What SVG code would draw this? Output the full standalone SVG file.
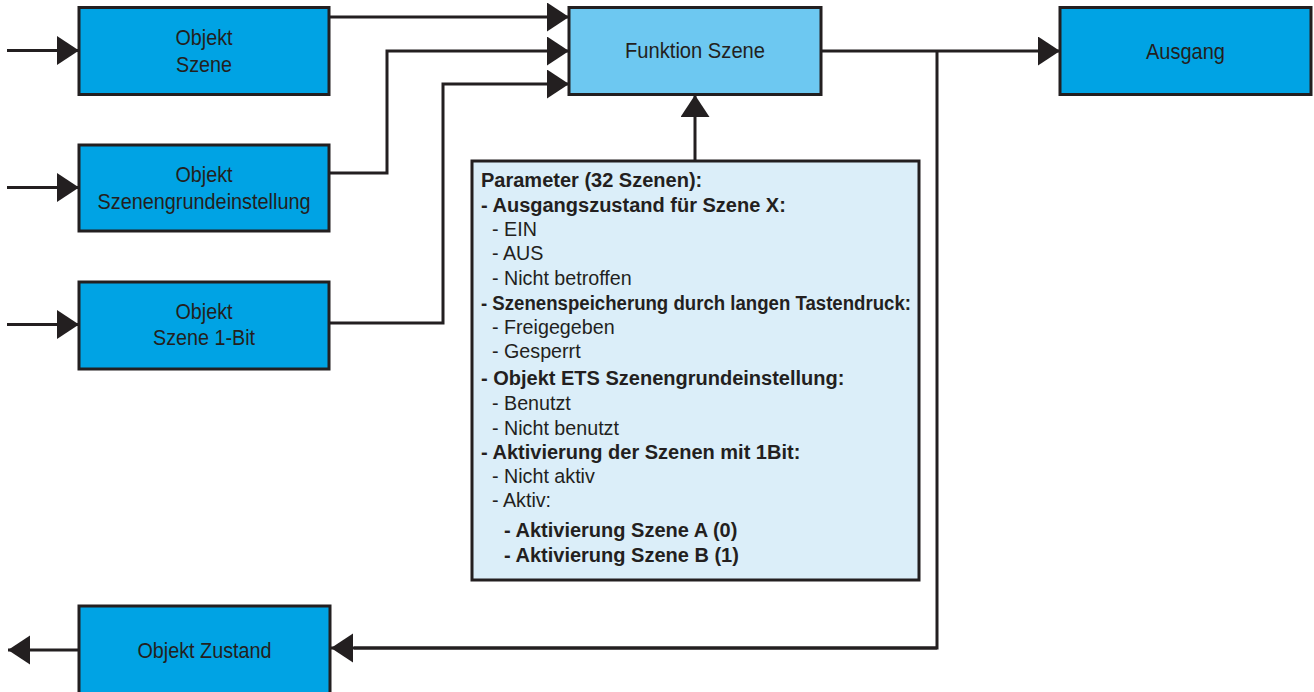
<svg xmlns="http://www.w3.org/2000/svg" width="1314" height="692" viewBox="0 0 1314 692">
<defs>
<style>
.box{fill:#00A3E4;stroke:#231F20;stroke-width:3}
.fn{fill:#6DC8F1;stroke:#231F20;stroke-width:3}
.par{fill:#DBEEF9;stroke:#231F20;stroke-width:3}
.lbl{font-family:"Liberation Sans",Arial,sans-serif;font-size:22px;fill:#231F20;text-anchor:middle}
.pb{font-family:"Liberation Sans",Arial,sans-serif;font-size:20px;font-weight:bold;fill:#231F20}
.pr{font-family:"Liberation Sans",Arial,sans-serif;font-size:19.7px;fill:#231F20}
.con{fill:none;stroke:#231F20;stroke-width:3;marker-end:url(#ah)}
.con2{fill:none;stroke:#231F20;stroke-width:3}
</style>
<marker id="ah" markerUnits="userSpaceOnUse" markerWidth="23" markerHeight="30" refX="22" refY="14.5" orient="auto">
<path d="M0,0 L22,14.5 L0,29 Z" fill="#231F20"/>
</marker>
</defs>
<rect width="1314" height="692" fill="#ffffff"/>
<g id="connectors">
<path class="con" d="M7,50.5 H79"/>
<path class="con" d="M7,187.5 H79"/>
<path class="con" d="M7,324.5 H79"/>
<path class="con" d="M329,17 H569"/>
<path class="con" d="M329,173 H387 V51 H569"/>
<path class="con" d="M329,323 H443 V84 H569"/>
<path class="con" d="M821,51 H1060"/>
<path class="con2" d="M937,51 V648 H354"/>
<path class="con" d="M937,648 H331"/>
<path class="con" d="M79,650 H8"/>
<path class="con" d="M695,161 V95"/>
</g>
<g id="objekt-szene">
<rect class="box" x="79" y="7.5" width="250" height="87"/>
<text class="lbl" x="204" y="45" textLength="57" lengthAdjust="spacingAndGlyphs">Objekt</text>
<text class="lbl" x="204" y="72" textLength="56" lengthAdjust="spacingAndGlyphs">Szene</text>
</g>
<g id="objekt-szenengrundeinstellung">
<rect class="box" x="79" y="145" width="250" height="86"/>
<text class="lbl" x="204" y="182" textLength="57" lengthAdjust="spacingAndGlyphs">Objekt</text>
<text class="lbl" x="204" y="209" textLength="213" lengthAdjust="spacingAndGlyphs">Szenengrundeinstellung</text>
</g>
<g id="objekt-szene-1bit">
<rect class="box" x="79" y="282" width="250" height="87"/>
<text class="lbl" x="204" y="319" textLength="57" lengthAdjust="spacingAndGlyphs">Objekt</text>
<text class="lbl" x="204" y="345" textLength="102" lengthAdjust="spacingAndGlyphs">Szene 1-Bit</text>
</g>
<g id="objekt-zustand">
<rect class="box" x="79" y="606" width="251" height="92"/>
<text class="lbl" x="204.5" y="658" textLength="134" lengthAdjust="spacingAndGlyphs">Objekt Zustand</text>
</g>
<g id="funktion-szene">
<rect class="fn" x="569" y="7.5" width="252" height="87"/>
<text class="lbl" x="695" y="58" textLength="140" lengthAdjust="spacingAndGlyphs">Funktion Szene</text>
</g>
<g id="ausgang">
<rect class="box" x="1060" y="7.5" width="251" height="87"/>
<text class="lbl" x="1185.5" y="59" textLength="79" lengthAdjust="spacingAndGlyphs">Ausgang</text>
</g>
<g id="parameter">
<rect class="par" x="472" y="161" width="447" height="419"/>
<text class="pb" x="481" y="187">Parameter (32 Szenen):</text>
<text class="pb" x="481" y="212">- Ausgangszustand für Szene X:</text>
<text class="pr" x="492" y="236">- EIN</text>
<text class="pr" x="492" y="260">- AUS</text>
<text class="pr" x="492" y="285">- Nicht betroffen</text>
<text class="pb" x="481" y="310" textLength="430" lengthAdjust="spacingAndGlyphs">- Szenenspeicherung durch langen Tastendruck:</text>
<text class="pr" x="492" y="334">- Freigegeben</text>
<text class="pr" x="492" y="358">- Gesperrt</text>
<text class="pb" x="481" y="385">- Objekt ETS Szenengrundeinstellung:</text>
<text class="pr" x="492" y="410">- Benutzt</text>
<text class="pr" x="492" y="435">- Nicht benutzt</text>
<text class="pb" x="481" y="459">- Aktivierung der Szenen mit 1Bit:</text>
<text class="pr" x="492" y="483">- Nicht aktiv</text>
<text class="pr" x="492" y="507">- Aktiv:</text>
<text class="pb" x="504" y="537">- Aktivierung Szene A (0)</text>
<text class="pb" x="504" y="562">- Aktivierung Szene B (1)</text>
</g>
</svg>
